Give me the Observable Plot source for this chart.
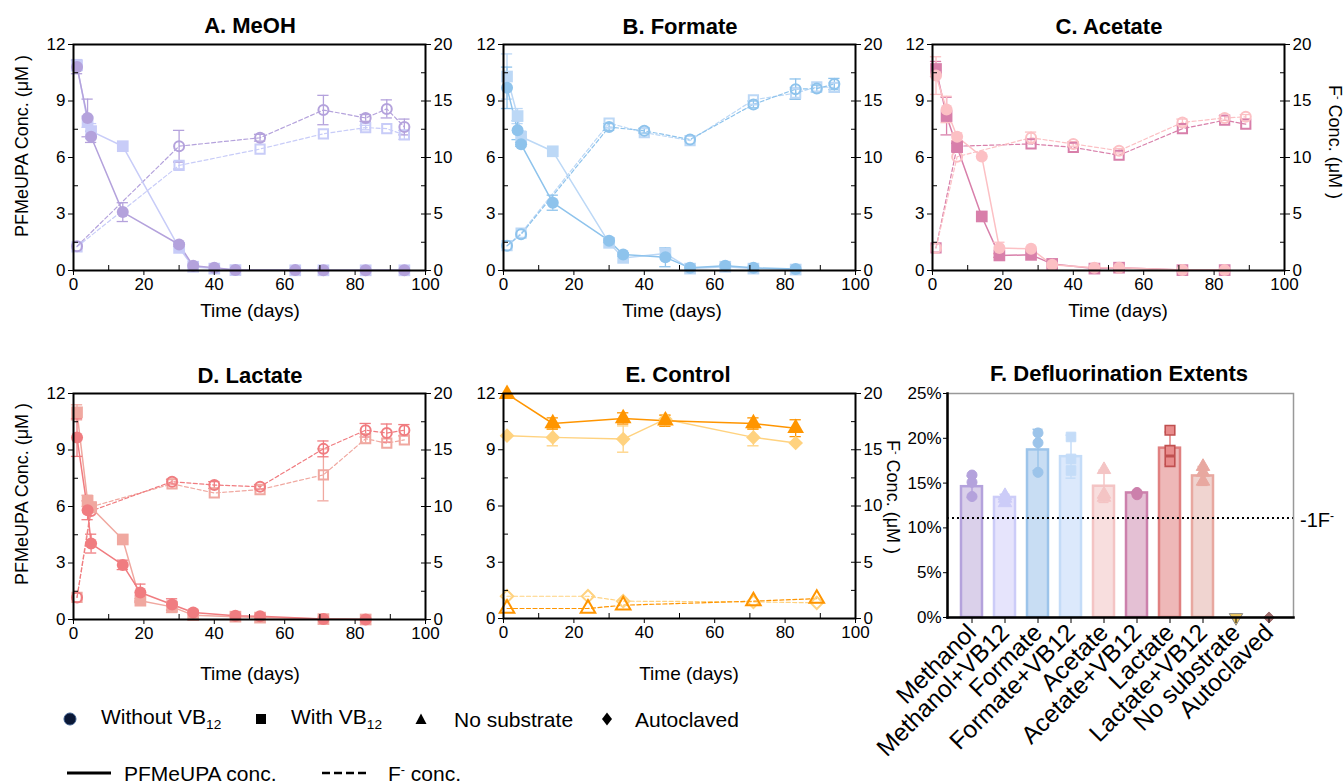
<!DOCTYPE html>
<html><head><meta charset="utf-8">
<script src="https://cdn.jsdelivr.net/npm/d3@7"></script>
<script src="https://cdn.jsdelivr.net/npm/@observablehq/plot@0.6"></script>
<style>
body{margin:0;background:#fff;font-family:"Liberation Sans",Arial,sans-serif;color:#000;}
#wrap{position:relative;width:1344px;height:783px;overflow:hidden;background:#fff;}
.abs{position:absolute;white-space:nowrap;line-height:1;}
.title{font-weight:bold;font-size:22px;transform:translate(-50%,-50%);}
.xl{font-size:19px;transform:translate(-50%,-50%);}
.yl{font-size:18px;transform:translate(-50%,-50%) rotate(-90deg);}
.yr{font-size:18px;transform:translate(-50%,-50%) rotate(90deg);}
.leg{font-size:21px;transform:translateY(-50%);}
sup{font-size:0.6em;vertical-align:0.55em;}
sub{font-size:0.65em;vertical-align:-0.35em;}
</style></head>
<body><div id="wrap"></div>
<script>
// ---------- axis ticks ----------
const xMajor = [0, 20, 40, 60, 80, 100];
const xMinor = [10, 30, 50, 70, 90];
const yLeftTicks = [0, 3, 6, 9, 12];
const yLeftMinor = [1.5, 4.5, 7.5, 10.5];
const yRightTicks = [0, 5, 10, 15, 20];
const yRightMinor = [2.5, 7.5, 12.5, 17.5];
const K = 12 / 20; // F- axis (0-20) mapped onto PFMeUPA axis (0-12)

// ---------- A. MeOH ----------
const A_dayP = [1, 4, 5, 14, 30, 34, 40, 46, 63, 71, 83, 94];
const A_P_noVB = [10.8, 8.1, 7.1, 3.1, 1.38, 0.25, 0.14, 0.03, 0.02, 0.01, 0.01, 0.01];
const A_P_noVB_err = [0.35, 1.0, 0.3, 0.5, 0.1, 0, 0, 0, 0, 0, 0, 0];
const A_P_VB = [10.9, 7.9, 7.4, 6.6, 1.2, 0.2, 0.1, 0.02, 0.01, 0.01, 0.01, 0.01];
const A_P_VB_err = [0.3, 0.3, 0.4, 0, 0, 0, 0, 0, 0, 0, 0, 0];
const A_dayF = [1, 30, 53, 71, 83, 89, 94];
const A_F_noVB = [2.15, 11.0, 11.75, 14.2, 13.5, 14.3, 12.7];
const A_F_noVB_err = [0, 1.4, 0.3, 1.3, 0.3, 0.8, 0.7];
const A_F_VB = [2.1, 9.3, 10.75, 12.1, 12.65, 12.55, 12.0];
const A_F_VB_err = [0, 0.3, 0, 0, 0.2, 0, 0.4];

// ---------- B. Formate ----------
const B_dayP = [1, 4, 5, 14, 30, 34, 46, 53, 63, 71, 83];
const B_P_noVB = [9.7, 7.45, 6.7, 3.6, 1.58, 0.85, 0.7, 0.14, 0.25, 0.14, 0.08];
const B_P_noVB_err = [1.1, 0.5, 0.1, 0.4, 0.1, 0.1, 0.5, 0, 0.05, 0, 0];
const B_P_VB = [10.3, 8.2, 7.1, 6.33, 1.47, 0.67, 0.9, 0.1, 0.2, 0.1, 0.05];
const B_P_VB_err = [1.2, 0.4, 0.3, 0, 0, 0, 0.2, 0, 0, 0, 0];
const B_dayF = [1, 5, 30, 40, 53, 71, 83, 89, 94];
const B_F_noVB = [2.18, 3.2, 12.7, 12.36, 11.6, 14.7, 16.05, 16.1, 16.5];
const B_F_noVB_err = [0, 0, 0.3, 0.2, 0, 0.3, 0.9, 0.3, 0.5];
const B_F_VB = [2.2, 3.3, 13.05, 12.2, 11.5, 15.1, 15.7, 16.25, 16.2];
const B_F_VB_err = [0, 0, 0, 0, 0, 0, 0.5, 0, 0.4];

// ---------- C. Acetate ----------
const C_dayP = [1, 4, 7, 14, 19, 28, 34, 46, 53, 71, 83];
const C_P_noVB = [10.35, 8.55, 7.1, 6.05, 1.2, 1.15, 0.3, 0.15, 0.15, 0.03, 0.02];
const C_P_noVB_err = [1.0, 0.7, 0.2, 0, 0.3, 0, 0, 0, 0, 0, 0];
const C_P_VB = [10.7, 8.2, 6.55, 2.87, 0.8, 0.83, 0.35, 0.1, 0.15, 0.02, 0.02];
const C_P_VB_err = [0.4, 1.0, 0.2, 0, 0.1, 0, 0, 0, 0, 0, 0];
const C_dayF = [1, 7, 28, 40, 53, 71, 83, 89];
const C_F_noVB = [2.0, 10.07, 11.75, 11.2, 10.6, 13.1, 13.5, 13.6];
const C_F_noVB_err = [0, 0, 0.5, 0.2, 0.2, 0.3, 0.2, 0.2];
const C_F_VB = [2.0, 11.0, 11.2, 10.9, 10.2, 12.55, 13.3, 12.95];
const C_F_VB_err = [0, 0, 0, 0, 0, 0, 0, 0];

// ---------- D. Lactate ----------
const D_dayP = [1, 4, 5, 14, 19, 28, 34, 46, 53, 71, 83];
const D_P_noVB = [9.66, 5.8, 4.03, 2.9, 1.43, 0.8, 0.37, 0.2, 0.17, 0.03, 0.0];
const D_P_noVB_err = [1.0, 0.5, 0.5, 0.25, 0.45, 0.3, 0, 0, 0, 0, 0];
const D_P_VB = [11.0, 6.3, 5.95, 4.25, 1.0, 0.67, 0.23, 0.15, 0.1, 0.02, 0.0];
const D_P_VB_err = [0.4, 0.3, 0, 0, 0.1, 0.3, 0, 0, 0, 0, 0];
const D_dayF = [1, 5, 28, 40, 53, 71, 83, 89, 94];
const D_F_noVB = [1.95, 9.6, 12.2, 11.9, 11.75, 15.1, 16.75, 16.5, 16.75];
const D_F_noVB_err = [0, 0, 0.2, 0.3, 0.2, 0.7, 0.6, 0.8, 0.5];
const D_F_VB = [1.95, 9.97, 12.0, 11.2, 11.5, 12.8, 16.0, 15.6, 15.9];
const D_F_VB_err = [0, 0, 0, 0, 0, 2.3, 0.4, 0, 0];

// ---------- E. Control ----------
const E_dayP = [1, 14, 34, 46, 71, 83];
const E_P_noSub = [11.97, 10.4, 10.67, 10.55, 10.4, 10.15];
const E_P_noSub_err = [0, 0.3, 0.3, 0.3, 0.3, 0.45];
const E_P_auto = [9.75, 9.66, 9.57, 10.63, 9.66, 9.36];
const E_P_auto_err = [0, 0.45, 0.7, 0.2, 0.45, 0];
const E_dayF = [1, 24, 34, 71, 89];
const E_F_noSub = [0.89, 0.89, 1.18, 1.54, 1.77];
const E_F_auto = [1.98, 1.98, 1.54, 1.48, 1.39];

// ---------- F. Defluorination extents (%) ----------
const F_cats = ["Methanol", "Methanol+VB12", "Formate", "Formate+VB12", "Acetate", "Acetate+VB12", "Lactate", "Lactate+VB12", "No substrate", "Autoclaved"];
const F_mean = [14.6, 13.4, 18.7, 17.95, 14.65, 13.9, 18.9, 15.8, 0, 0];
const F_sd = [1.2, 0.35, 2.3, 2.4, 1.8, 0.1, 1.8, 1.05, 0, 0];
const F_reps = [[15.9, 15.1, 13.5], [13.6, 13.3, 12.8], [20.6, 19.5, 16.2], [20.15, 17.7, 16.4], [16.5, 13.75, 13.4], [13.95, 13.85, 13.7], [20.9, 18.65, 17.4], [16.85, 16.2, 15.2], [0], [0]];
const F_sym = ["circle", "triangle", "circle", "square", "triangle", "circle", "square", "triangle", "triangle", "diamond2"];
const F_fill = ["#DAD0EA", "#E6E4FC", "#C8DDF3", "#DCE9FC", "#F8DEDE", "#E4C0D4", "#EEB8B8", "#F0D4D0", "#F0C860", "#F09040"];
const F_stroke = ["#B4A2DC", "#CCCCF8", "#9CC4EA", "#C4DCF8", "#F4C4C4", "#CC80AC", "#E08080", "#E8A8A0", "#8A8A8A", "#A07070"];
const F_yTicks = [0, 5, 10, 15, 20, 25];
const F_oneF = 100 / 9;

// ---------- colours ----------
const colA = ["#B4A2DC", "#C8CCF8"];
const colB = ["#8EC3EC", "#BCD8F6"];
const colC = ["#FCC0C4", "#D87FAA"];
const colD = ["#F07C80", "#F0A8A0"];
const colE = ["#FF9500", "#FFD27F"];

const wrap = document.getElementById("wrap");
const FONT = "'Liberation Sans', Arial, sans-serif";

function place(svg, left, top) {
  svg.style.position = "absolute";
  svg.style.left = left + "px";
  svg.style.top = top + "px";
  svg.style.overflow = "visible";
  wrap.appendChild(svg);
}

function S(days, vals, errs, color, symbol, opts = {}) {
  return {days, vals, errs, color, symbol, ...opts};
}

function linePanel({left, top, width, height, mL, mR, mT, mB, series}) {
  const under = [], over = [];
  for (const s of series) {
    const k = s.axis === "right" ? K : 1;
    const rows = s.days.map((d, i) => ({x: d, y: s.vals[i] * k, e: (s.errs ? s.errs[i] : 0) * k}));
    const er = rows.filter(r => r.e > 0);
    under.push(Plot.line(rows, {x: "x", y: "y", stroke: s.color, strokeWidth: s.dashed ? 1.2 : 1.5,
      strokeDasharray: s.dashed ? "4,2.5" : null}));
    under.push(Plot.ruleX(er, {x: "x", y1: r => Math.max(0, r.y - r.e), y2: r => r.y + r.e, stroke: s.color, strokeWidth: 1.3}));
    under.push(Plot.ruleY(er, {y: r => r.y + r.e, x1: r => r.x - 1.6, x2: r => r.x + 1.6, stroke: s.color, strokeWidth: 1.3}));
    under.push(Plot.ruleY(er.filter(r => r.y - r.e > 0), {y: r => r.y - r.e, x1: r => r.x - 1.6, x2: r => r.x + 1.6, stroke: s.color, strokeWidth: 1.3}));
    over.push(Plot.dot(rows, {x: "x", y: "y", symbol: s.symbol, r: s.r,
      fill: s.open ? "none" : s.color, stroke: s.open ? s.color : "none", strokeWidth: s.open ? 2 : 0}));
  }
  const svg = Plot.plot({
    width, height, marginLeft: mL, marginRight: mR, marginTop: mT, marginBottom: mB,
    style: {fontFamily: FONT, fontSize: "17px", background: "transparent", overflow: "visible", color: "black"},
    x: {domain: [0, 100], label: null},
    y: {domain: [0, 12], label: null},
    marks: [
      ...under, ...over,
      Plot.frame({stroke: "black", strokeWidth: 2}),
      Plot.axisX(xMajor, {tickSize: 5, tickPadding: 2, label: null}),
      Plot.axisX(xMinor, {tickSize: -5, tickFormat: () => "", label: null}),
      Plot.axisY(yLeftTicks, {tickSize: 5, tickPadding: 3, label: null}),
      Plot.axisY(yLeftMinor, {tickSize: -5, tickFormat: () => "", label: null}),
      Plot.axisY(yRightTicks.map(v => v * K), {anchor: "right", tickSize: 5, tickPadding: 3, tickFormat: d => Math.round(d / K), label: null}),
      Plot.axisY(yRightTicks.map(v => v * K), {anchor: "right", tickSize: -5, tickFormat: () => "", label: null}),
      Plot.axisY(yRightMinor.map(v => v * K), {anchor: "right", tickSize: -5, tickFormat: () => "", label: null})
    ]
  });
  place(svg, left, top);
}

const geom1 = {top: 0, height: 340, mT: 44, mB: 70};
const geom2 = {top: 350, height: 330, mT: 43, mB: 61};
const R = {fc: 6, fs: 6.6, oc: 5, os: 5.2, ft: 6.2, fd: 6.6, ot: 5.4, od: 5.6};

// A
linePanel({left: 0, width: 440, mL: 73, mR: 15, ...geom1, series: [
  S(A_dayF, A_F_VB, A_F_VB_err, colA[1], "square", {axis: "right", dashed: true, open: true, r: R.os}),
  S(A_dayF, A_F_noVB, A_F_noVB_err, colA[0], "circle", {axis: "right", dashed: true, open: true, r: R.oc}),
  S(A_dayP, A_P_VB, A_P_VB_err, colA[1], "square", {r: R.fs}),
  S(A_dayP, A_P_noVB, A_P_noVB_err, colA[0], "circle", {r: R.fc})
]});
// B
linePanel({left: 440, width: 440, mL: 63, mR: 25, ...geom1, series: [
  S(B_dayF, B_F_VB, B_F_VB_err, colB[1], "square", {axis: "right", dashed: true, open: true, r: R.os}),
  S(B_dayF, B_F_noVB, B_F_noVB_err, colB[0], "circle", {axis: "right", dashed: true, open: true, r: R.oc}),
  S(B_dayP, B_P_VB, B_P_VB_err, colB[1], "square", {r: R.fs}),
  S(B_dayP, B_P_noVB, B_P_noVB_err, colB[0], "circle", {r: R.fc})
]});
// C
linePanel({left: 880, width: 464, mL: 52, mR: 60, ...geom1, series: [
  S(C_dayF, C_F_VB, C_F_VB_err, colC[1], "square", {axis: "right", dashed: true, open: true, r: R.os}),
  S(C_dayF, C_F_noVB, C_F_noVB_err, colC[0], "circle", {axis: "right", dashed: true, open: true, r: R.oc}),
  S(C_dayP, C_P_VB, C_P_VB_err, colC[1], "square", {r: R.fs}),
  S(C_dayP, C_P_noVB, C_P_noVB_err, colC[0], "circle", {r: R.fc})
]});
// D
linePanel({left: 0, width: 440, mL: 73, mR: 15, ...geom2, series: [
  S(D_dayF, D_F_VB, D_F_VB_err, colD[1], "square", {axis: "right", dashed: true, open: true, r: R.os}),
  S(D_dayF, D_F_noVB, D_F_noVB_err, colD[0], "circle", {axis: "right", dashed: true, open: true, r: R.oc}),
  S(D_dayP, D_P_VB, D_P_VB_err, colD[1], "square", {r: R.fs}),
  S(D_dayP, D_P_noVB, D_P_noVB_err, colD[0], "circle", {r: R.fc})
]});
// E
linePanel({left: 440, width: 440, mL: 63, mR: 25, ...geom2, mB: 62, series: [
  S(E_dayF, E_F_auto, null, colE[1], "diamond2", {axis: "right", dashed: true, open: true, r: R.od}),
  S(E_dayF, E_F_noSub, null, colE[0], "triangle", {axis: "right", dashed: true, open: true, r: R.ot}),
  S(E_dayP, E_P_auto, E_P_auto_err, colE[1], "diamond2", {r: R.fd}),
  S(E_dayP, E_P_noSub, E_P_noSub_err, colE[0], "triangle", {r: R.ft})
]});

// F
(function () {
  const bars = F_cats.map((c, i) => ({c, m: F_mean[i], sd: F_sd[i], fill: F_fill[i], stroke: F_stroke[i]}));
  const shown = bars.filter(d => d.m > 0);
  const reps = F_cats.flatMap((c, i) => F_reps[i].map(v => ({c, v, sym: F_sym[i], col: F_stroke[i], i})));
  const symbols = [...new Set(F_sym)];
  const repMarks = symbols.map(sym => Plot.dot(reps.filter(d => d.sym === sym && d.c !== "No substrate"), {
    x: "c", y: "v", symbol: sym, r: sym === "square" ? 5.4 : 5,
    fill: d => d.c === "Lactate" ? "#E88C8C" : d.col,
    stroke: d => d.c === "Lactate" ? "#C05050" : (d.c === "Autoclaved" ? "#A07070" : d.col),
    strokeWidth: d => d.c === "Lactate" ? 1.6 : 1
  }));
  const svg = Plot.plot({
    width: 464, height: 433, marginLeft: 67, marginRight: 51, marginTop: 43, marginBottom: 166,
    style: {fontFamily: FONT, fontSize: "17px", background: "transparent", overflow: "visible", color: "black"},
    x: {type: "band", domain: F_cats, paddingInner: 0.35, paddingOuter: 0.36, align: 0.5, label: null},
    y: {domain: [0, 25], label: null},
    color: {type: "identity"},
    marks: [
      Plot.barY(shown, {x: "c", y: "m", fill: "fill", stroke: "stroke", strokeWidth: 2.5}),
      Plot.ruleX(shown, {x: "c", y1: d => d.m - d.sd, y2: d => d.m + d.sd, stroke: "stroke", strokeWidth: 1.5}),
      Plot.tickY(shown, {x: "c", y: d => d.m + d.sd, stroke: "stroke", strokeWidth: 1.5, insetLeft: 5.5, insetRight: 5.5}),
      Plot.tickY(shown, {x: "c", y: d => d.m - d.sd, stroke: "stroke", strokeWidth: 1.5, insetLeft: 5.5, insetRight: 5.5}),
      Plot.ruleY([F_oneF], {stroke: "black", strokeWidth: 2, strokeDasharray: "2,3"}),
      ...repMarks,
      Plot.dot(reps.filter(d => d.c === "No substrate"), {x: "c", y: "v", symbol: "triangle", rotate: 180, r: 5, fill: "#F0C860", stroke: "#8A8A8A", strokeWidth: 1}),
      Plot.frame({stroke: "#999", strokeWidth: 1.5}),
      Plot.frame({anchor: "left", stroke: "black", strokeWidth: 2.5}),
      Plot.frame({anchor: "bottom", stroke: "black", strokeWidth: 2.5}),
      Plot.axisY(F_yTicks, {tickSize: 4, tickPadding: 2, tickFormat: d => d + "%", label: null}),
      Plot.axisX({tickSize: 6, tickRotate: -45, tickPadding: 5, label: null})
    ]
  });
  // enlarge the rotated category labels
  svg.querySelectorAll("text").forEach(t => {
    if (F_cats.includes(t.textContent.trim())) t.style.fontSize = "24.5px";
  });
  place(svg, 880, 350);
})();

// ---------- text ----------
function txt(html, cls, x, y) {
  const d = document.createElement("div");
  d.className = "abs " + cls;
  d.style.left = x + "px";
  d.style.top = y + "px";
  d.innerHTML = html;
  wrap.appendChild(d);
  return d;
}
txt("A. MeOH", "title", 250, 26);
txt("B. Formate", "title", 680, 27);
txt("C. Acetate", "title", 1109, 27);
txt("D. Lactate", "title", 250, 376);
txt("E. Control", "title", 678, 375);
txt("F. Defluorination Extents", "title", 1119, 374);
txt("Time (days)", "xl", 250, 310);
txt("Time (days)", "xl", 672, 310);
txt("Time (days)", "xl", 1118, 310);
txt("Time (days)", "xl", 250, 673);
txt("Time (days)", "xl", 689, 673);
txt("PFMeUPA Conc. (μM )", "yl", 22, 146);
txt("PFMeUPA Conc. (μM )", "yl", 22, 494);
txt("F<sup>-</sup> Conc. (μM )", "yr", 1335, 142);
txt("F<sup>-</sup> Conc. (μM )", "yr", 893, 497);
const one = txt("-1F<sup>-</sup>", "leg", 1300, 520);
one.style.fontSize = "20px";

// legend
function sym(svgInner, x, y, w = 16, h = 16) {
  const d = document.createElement("div");
  d.className = "abs";
  d.style.left = (x - w / 2) + "px";
  d.style.top = (y - h / 2) + "px";
  d.innerHTML = `<svg width="${w}" height="${h}" viewBox="0 0 ${w} ${h}">${svgInner}</svg>`;
  wrap.appendChild(d);
}
sym('<circle cx="8" cy="8" r="6" fill="#0B1836" stroke="#3A5A8A" stroke-width="1"/>', 70, 719);
txt("Without VB<sub>12</sub>", "leg", 101, 719);
sym('<rect x="3" y="3" width="10" height="10" fill="#000"/>', 261, 719);
txt("With VB<sub>12</sub>", "leg", 291, 719);
sym('<path d="M8,2.5 L13.5,13 L2.5,13 Z" fill="#000"/>', 421, 719);
txt("No substrate", "leg", 454, 719);
sym('<path d="M8,1.5 L13,8 L8,14.5 L3,8 Z" fill="#000"/>', 607, 719);
txt("Autoclaved", "leg", 635, 719);
sym('<line x1="0" y1="8" x2="44" y2="8" stroke="#000" stroke-width="3"/>', 89, 773, 44, 16);
txt("PFMeUPA conc.", "leg", 124, 773);
sym('<line x1="0" y1="8" x2="46" y2="8" stroke="#000" stroke-width="2.5" stroke-dasharray="8,4"/>', 345, 773, 46, 16);
txt("F<sup>-</sup> conc.", "leg", 388, 773);
</script>
</body></html>
